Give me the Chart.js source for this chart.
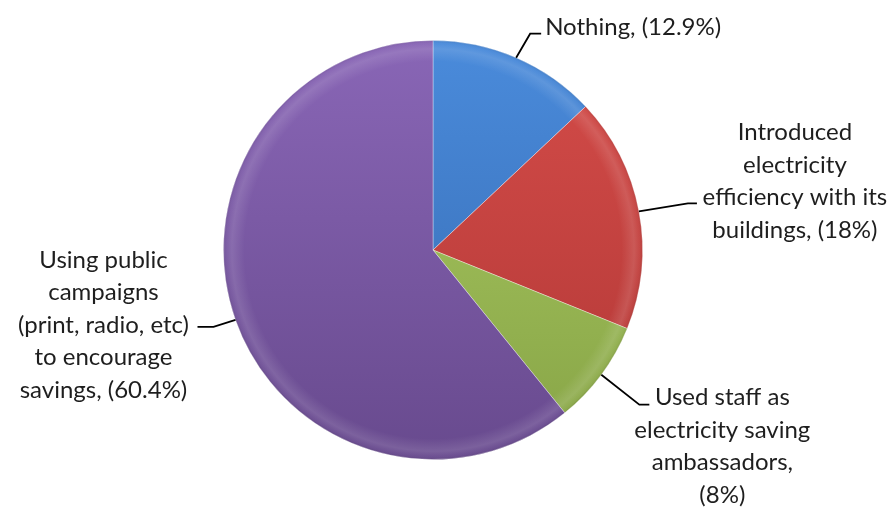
<!DOCTYPE html>
<html lang="en">
<head>
    <meta charset="UTF-8">
    <title>Electricity saving measures</title>
    <script src="https://cdn.jsdelivr.net/npm/chart.js"></script>
    <style>
        html, body { margin: 0; padding: 0; background: #fff; }
        #wrap { width: 892px; height: 507px; position: relative; }
    </style>
</head>
<body>
    <div id="wrap"><canvas id="pie" width="892" height="507"></canvas></div>

    <script>
        // Survey answers, clockwise from 12 o'clock
        const categories = [
            ['Nothing, (12.9%)'],
            ['Introduced', 'electricity', 'efficiency with its', 'buildings, (18%)'],
            ['Used staff as', 'electricity saving', 'ambassadors,', '(8%)'],
            ['Using public', 'campaigns', '(print, radio, etc)', 'to encourage', 'savings, (60.4%)']
        ];
        const shares = [12.9, 18, 8, 60.4];

        const colorsTop = ['#4a8bdb', '#d44c49', '#abcb63', '#8966b6'];
        const colorsBottom = ['#3569b0', '#b23836', '#87a446', '#684a8e'];

        // leader line + text placement, relative to the slice's outer mid point
        const labelLayout = [
            { elbow: [14, -24], end: [25, -24], text: [29, -30], align: 'left' },
            { elbow: [49, -8], end: [58, -8], text: [156, -79], align: 'center' },
            { elbow: [38, 30], end: [48, 30], text: [121, 23], align: 'center' },
            { elbow: [-22, 7], end: [-38, 7], text: [-132, -60], align: 'center' }
        ];

        const FONT = '24px Lato';
        const LINE_H = 32.5;

        function sliceFill(ctx) {
            const chart = ctx.chart;
            const area = chart.chartArea;
            if (!area) return colorsTop[ctx.dataIndex];
            const g = chart.ctx.createLinearGradient(0, area.top, 0, area.bottom);
            g.addColorStop(0, colorsTop[ctx.dataIndex]);
            g.addColorStop(1, colorsBottom[ctx.dataIndex]);
            return g;
        }

        // soft bevel along the rim of every slice
        const bevel = {
            id: 'bevel',
            afterDatasetsDraw(chart) {
                const c = chart.ctx;
                chart.getDatasetMeta(0).data.forEach(arc => {
                    const p = arc.getProps(['x', 'y', 'startAngle', 'endAngle', 'outerRadius']);
                    const r = p.outerRadius;
                    const g = c.createRadialGradient(p.x, p.y, r * 0.9, p.x, p.y, r);
                    g.addColorStop(0, 'rgba(255,255,255,0)');
                    g.addColorStop(0.6, 'rgba(255,255,255,0.12)');
                    g.addColorStop(0.85, 'rgba(255,255,255,0.04)');
                    g.addColorStop(1, 'rgba(0,0,0,0.08)');
                    c.save();
                    c.beginPath();
                    c.moveTo(p.x, p.y);
                    c.arc(p.x, p.y, r, p.startAngle, p.endAngle);
                    c.closePath();
                    c.fillStyle = g;
                    c.fill();
                    c.restore();
                });
            }
        };

        const calloutLabels = {
            id: 'calloutLabels',
            afterDraw(chart) {
                const c = chart.ctx;
                chart.getDatasetMeta(0).data.forEach((arc, i) => {
                    const p = arc.getProps(['x', 'y', 'startAngle', 'endAngle', 'outerRadius']);
                    const mid = (p.startAngle + p.endAngle) / 2;
                    const ex = p.x + Math.cos(mid) * p.outerRadius;
                    const ey = p.y + Math.sin(mid) * p.outerRadius;
                    const lay = labelLayout[i];

                    c.save();
                    c.strokeStyle = '#000';
                    c.lineWidth = 1.8;
                    c.beginPath();
                    c.moveTo(ex, ey);
                    c.lineTo(ex + lay.elbow[0], ey + lay.elbow[1]);
                    c.lineTo(ex + lay.end[0], ey + lay.end[1]);
                    c.stroke();

                    c.font = FONT;
                    c.fillStyle = '#1e1e1e';
                    c.textAlign = lay.align;
                    c.textBaseline = 'middle';
                    categories[i].forEach((line, k) => {
                        c.fillText(line, ex + lay.text[0], ey + lay.text[1] + k * LINE_H);
                    });
                    c.restore();
                });
            }
        };

        new Chart(document.getElementById('pie'), {
            type: 'pie',
            data: {
                labels: categories.map(l => l.join(' ')),
                datasets: [{
                    data: shares,
                    backgroundColor: sliceFill,
                    borderColor: 'rgba(255,255,255,0.35)',
                    borderWidth: 1
                }]
            },
            options: {
                responsive: false,
                animation: false,
                layout: { padding: { top: 40, bottom: 47, left: 223, right: 249 } },
                plugins: {
                    legend: { display: false },
                    tooltip: { enabled: false }
                }
            },
            plugins: [bevel, calloutLabels]
        });
    </script>
</body>
</html>
